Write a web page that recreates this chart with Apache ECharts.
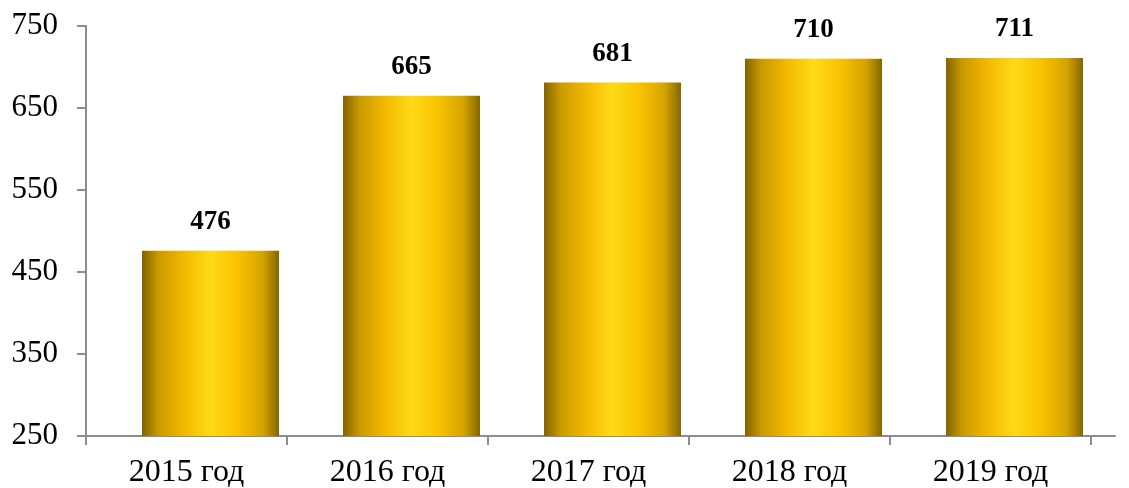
<!DOCTYPE html>
<html>
<head>
<meta charset="utf-8">
<script src="https://cdn.jsdelivr.net/npm/echarts@6/dist/echarts.min.js"></script>
<style>html,body{margin:0;padding:0;background:#fff}#c{width:1129px;height:488px}</style>
</head>
<body>
<div id="c"></div>
<script>
const categories = ['2015 год', '2016 год', '2017 год', '2018 год', '2019 год'];
const values = [476, 665, 681, 710, 711];
const yMin = 250, yMax = 750, yStep = 100;

const font = '"Liberation Serif", "Times New Roman", serif';
const axisColor = '#8c8c8c';
const barGradient = {
  type: 'linear', x: 0, y: 0, x2: 1, y2: 0,
  colorStops: [
    {offset: 0, color: '#836500'},
    {offset: 0.12, color: '#c99a00'},
    {offset: 0.3, color: '#f2b800'},
    {offset: 0.5, color: '#ffda18'},
    {offset: 0.7, color: '#f8c200'},
    {offset: 0.88, color: '#d6a400'},
    {offset: 1, color: '#836700'}
  ]
};

const chart = echarts.init(document.getElementById('c'));
chart.setOption({
  animation: false,
  grid: [
    {left: 86, right: 38, top: 26, bottom: 52, containLabel: false, outerBoundsMode: 'none'},
    {left: 110, right: 14, top: 26, bottom: 52, containLabel: false, outerBoundsMode: 'none'}
  ],
  xAxis: [
    {
      type: 'category', gridIndex: 0, data: categories, boundaryGap: true,
      axisLine: {show: true, lineStyle: {color: axisColor, width: 2}},
      axisTick: {show: true, length: 9, inside: false, lineStyle: {color: axisColor, width: 2}},
      axisLabel: {color: '#000', fontFamily: font, fontSize: 32, margin: 21}
    },
    {
      type: 'category', gridIndex: 1, data: categories,
      axisLine: {show: true, lineStyle: {color: axisColor, width: 2}},
      axisTick: {show: false}, axisLabel: {show: false}
    }
  ],
  yAxis: [
    {
      type: 'value', gridIndex: 0, min: yMin, max: yMax, interval: yStep,
      axisLine: {show: true, lineStyle: {color: axisColor, width: 2}},
      axisTick: {show: true, length: 9, lineStyle: {color: axisColor, width: 2}},
      splitLine: {show: false},
      axisLabel: {color: '#000', fontFamily: font, fontSize: 31, margin: 28}
    },
    {
      type: 'value', gridIndex: 1, min: yMin, max: yMax, interval: yStep, show: false
    }
  ],
  series: [{
    type: 'bar', xAxisIndex: 1, yAxisIndex: 1, data: values,
    barWidth: 137,
    itemStyle: {color: barGradient},
    label: {
      show: true, position: 'top', distance: 15,
      color: '#000', fontFamily: font, fontSize: 27, fontWeight: 'bold'
    }
  }]
});
</script>
</body>
</html>
